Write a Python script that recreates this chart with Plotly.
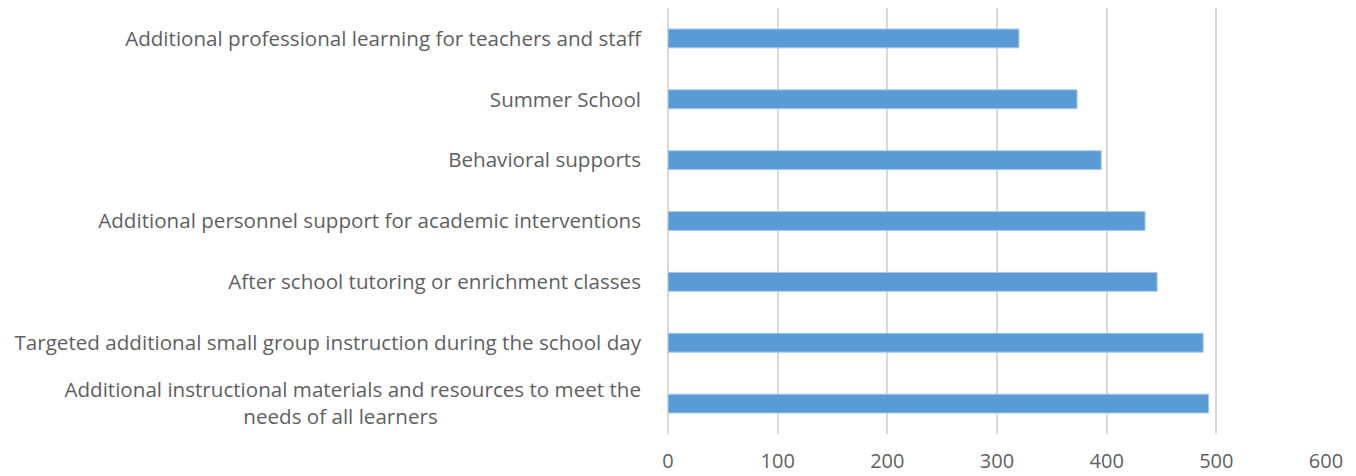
import plotly.graph_objects as go

NBSP = "\u00a0"

# categories listed bottom to top
categories = [
    "Additional instructional materials and resources to meet the<br>needs of all learners" + NBSP * 38,
    "Targeted additional small group instruction during the school day",
    "After school tutoring or enrichment classes",
    "Additional personnel support for academic interventions",
    "Behavioral supports",
    "Summer School",
    "Additional professional learning for teachers and staff",
]
values = [493, 488, 446, 435, 395, 373, 320]
x_ticks = [0, 100, 200, 300, 400, 500, 600]

BAR_COLOR = "#5B9BD5"
TEXT_COLOR = "#5F5F5F"
GRID_COLOR = "#D9D9D9"

fig = go.Figure(go.Bar(
    x=values,
    y=categories,
    orientation="h",
    width=0.31,
    marker=dict(color=BAR_COLOR, line=dict(color="#A9C9EC", width=1)),
))

# the page body adds 8px around the figure, so size it a bit smaller
fig.update_layout(
    width=1348,
    height=468,
    paper_bgcolor="white",
    plot_bgcolor="white",
    margin=dict(l=660, r=30, t=0, b=42),
    showlegend=False,
    font=dict(family="Open Sans", size=20, color=TEXT_COLOR),
)

fig.update_xaxes(
    range=[0, 600],
    tickvals=x_ticks,
    showgrid=True,
    gridcolor=GRID_COLOR,
    gridwidth=1.5,
    zeroline=True,
    zerolinecolor=GRID_COLOR,
    zerolinewidth=1.5,
    showline=False,
    ticks="",
    ticklabelstandoff=13,
    tickfont=dict(size=20),
    automargin=False,
)

fig.update_yaxes(
    showgrid=False,
    showline=False,
    ticks="",
    ticklabelstandoff=26,
    tickfont=dict(size=20.6),
    automargin=False,
)

fig.write_html("out.html")
